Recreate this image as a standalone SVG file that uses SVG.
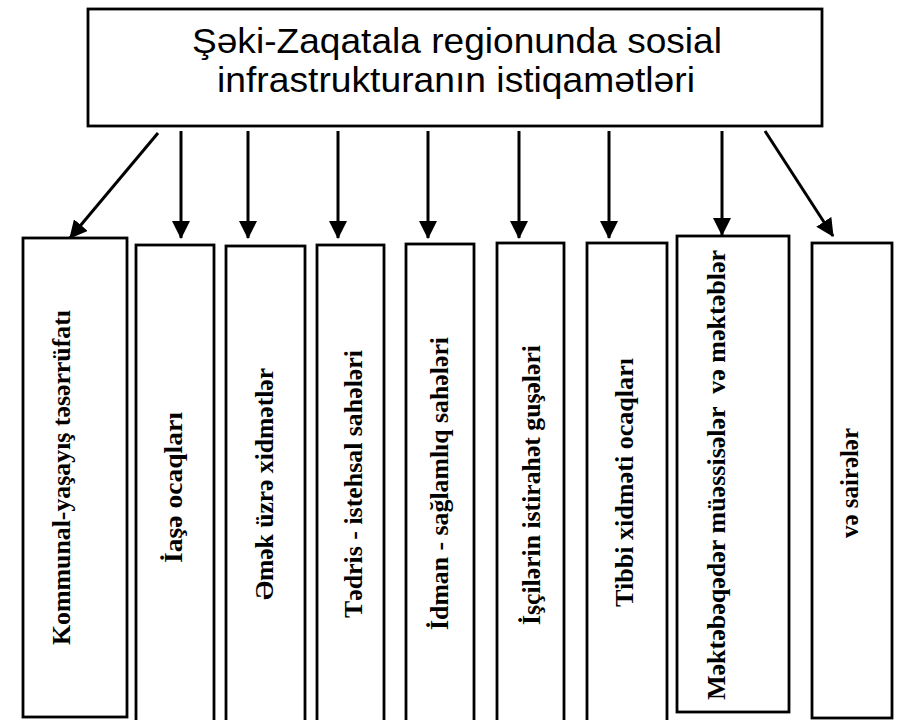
<svg xmlns="http://www.w3.org/2000/svg" width="899" height="720" viewBox="0 0 899 720">
<style>
.box{fill:#fff;stroke:#000;stroke-width:2.8}
.title{font-family:"Liberation Sans","DejaVu Sans",Arial,sans-serif;font-size:35px;fill:#000;text-anchor:middle}
.lbl{font-family:"Liberation Serif","DejaVu Serif","Times New Roman",serif;font-weight:bold;font-size:25px;fill:#000;text-anchor:middle}
.conn{stroke:#000;stroke-width:3;fill:none;marker-end:url(#ah)}
</style>
<defs>
<marker id="ah" markerUnits="userSpaceOnUse" markerWidth="18" markerHeight="18" refX="16" refY="8.5" orient="auto" viewBox="0 0 17 17">
<path d="M0,0 L17,8.5 L0,17 z" fill="#000"/>
</marker>
</defs>
<rect width="899" height="720" fill="#fff"/>
<g id="top">
<rect class="box" x="88" y="9" width="734" height="117"/>
<text class="title" x="457" y="53" textLength="530" lengthAdjust="spacingAndGlyphs">Şəki-Zaqatala regionunda sosial</text>
<text class="title" x="456" y="92" textLength="478" lengthAdjust="spacingAndGlyphs">infrastrukturanın istiqamətləri</text>
</g>
<g id="connectors">
<line class="conn" x1="158" y1="133" x2="70" y2="238"/>
<line class="conn" x1="181" y1="131" x2="181" y2="238"/>
<line class="conn" x1="248" y1="131" x2="248" y2="238"/>
<line class="conn" x1="338" y1="131" x2="338" y2="238"/>
<line class="conn" x1="428" y1="131" x2="428" y2="238"/>
<line class="conn" x1="519" y1="131" x2="519" y2="238"/>
<line class="conn" x1="609" y1="131" x2="609" y2="238"/>
<line class="conn" x1="722" y1="131" x2="722" y2="235"/>
<line class="conn" x1="765" y1="131" x2="833" y2="236"/>
</g>
<g id="n1">
<rect class="box" x="23" y="238" width="104" height="479"/>
<text class="lbl" transform="translate(70,477.5) rotate(-90)" textLength="335" lengthAdjust="spacingAndGlyphs">Kommunal-yaşayış təsərrüfatı</text>
</g>
<g id="n2">
<rect class="box" x="136" y="245" width="78" height="482"/>
<text class="lbl" transform="translate(182,487.5) rotate(-90)" textLength="151" lengthAdjust="spacingAndGlyphs">İaşə ocaqları</text>
</g>
<g id="n3">
<rect class="box" x="226" y="246" width="79" height="482"/>
<text class="lbl" transform="translate(273,484) rotate(-90)" textLength="232" lengthAdjust="spacingAndGlyphs">Əmək üzrə xidmətlər</text>
</g>
<g id="n4">
<rect class="box" x="317" y="245" width="67" height="482"/>
<text class="lbl" transform="translate(362,484) rotate(-90)" textLength="268" lengthAdjust="spacingAndGlyphs">Tədris - istehsal sahələri</text>
</g>
<g id="n5">
<rect class="box" x="406" y="244" width="68" height="482"/>
<text class="lbl" transform="translate(448,483.5) rotate(-90)" textLength="293" lengthAdjust="spacingAndGlyphs">İdman - sağlamlıq sahələri</text>
</g>
<g id="n6">
<rect class="box" x="497" y="243" width="67" height="482"/>
<text class="lbl" transform="translate(540,485) rotate(-90)" textLength="280" lengthAdjust="spacingAndGlyphs">İşçilərin istirahət guşələri</text>
</g>
<g id="n7">
<rect class="box" x="587" y="243" width="80" height="482"/>
<text class="lbl" transform="translate(633,482.5) rotate(-90)" textLength="249" lengthAdjust="spacingAndGlyphs">Tibbi xidməti ocaqları</text>
</g>
<g id="n8">
<rect class="box" x="677" y="236" width="112" height="476"/>
<text class="lbl" transform="translate(725,475) rotate(-90)" textLength="450" lengthAdjust="spacingAndGlyphs" xml:space="preserve">Məktəbəqədər müəssisələr  və məktəblər</text>
</g>
<g id="n9">
<rect class="box" x="812" y="243" width="80" height="475"/>
<text class="lbl" transform="translate(858,483) rotate(-90)" textLength="110" lengthAdjust="spacingAndGlyphs">və sairələr</text>
</g>
</svg>
